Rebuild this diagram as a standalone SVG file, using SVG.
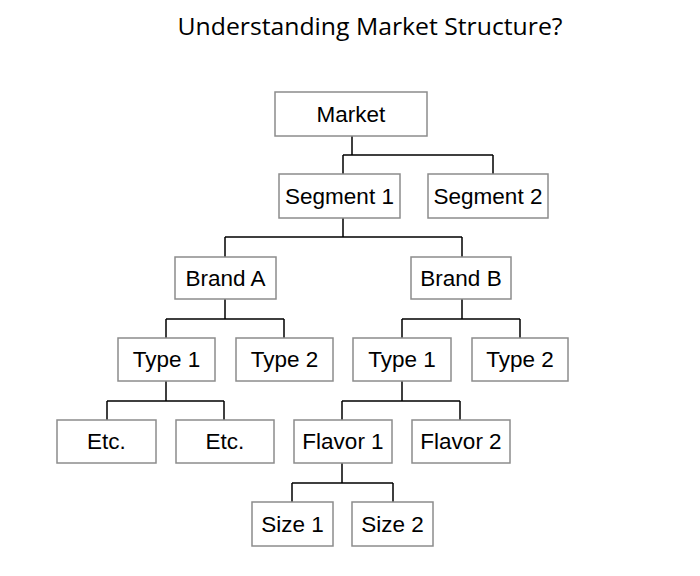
<svg xmlns="http://www.w3.org/2000/svg" width="700" height="576" viewBox="0 0 700 576">
<style>
.box rect{fill:#fff;stroke:#8c8c8c;stroke-width:1.5}
.box text{font-family:"Liberation Sans",Arial,sans-serif;font-size:22.5px;fill:#000;text-anchor:middle}
.title{font-family:"Open Sans","Liberation Sans",sans-serif;font-size:23px;fill:#000;text-anchor:middle}
#connectors path{fill:none;stroke:#000;stroke-width:1.5}
</style>
<rect width="700" height="576" fill="#fff"/>
<text class="title" x="370" y="35" textLength="385" lengthAdjust="spacingAndGlyphs">Understanding Market Structure?</text>
<g id="connectors">
<path d="M352 136V155M343 155H493M343 155V174M493 155V174"/>
<path d="M343 218V237M225 237H462M225 237V257M462 237V257"/>
<path d="M225 299V319M166 319H284M166 319V338M284 319V338"/>
<path d="M462 299V319M402 319H520M402 319V338M520 319V338"/>
<path d="M166 381V401M107 401H224M107 401V420M224 401V420"/>
<path d="M402 381V401M342 401H460M342 401V420M460 401V420"/>
<path d="M342 463V483M292 483H393M292 483V502M393 483V502"/>
</g>
<g id="market" class="box"><rect x="275" y="92" width="152" height="44"/><text x="351" y="122">Market</text></g>
<g id="segment1" class="box"><rect x="279" y="174" width="121" height="44"/><text x="339.5" y="204">Segment 1</text></g>
<g id="segment2" class="box"><rect x="428" y="174" width="120" height="44"/><text x="488" y="204">Segment 2</text></g>
<g id="brandA" class="box"><rect x="175" y="257" width="101" height="42"/><text x="225.5" y="286">Brand A</text></g>
<g id="brandB" class="box"><rect x="411" y="257" width="100" height="42"/><text x="461" y="286">Brand B</text></g>
<g id="typeA1" class="box"><rect x="118" y="338" width="97" height="43"/><text x="166.5" y="367">Type 1</text></g>
<g id="typeA2" class="box"><rect x="236" y="338" width="97" height="43"/><text x="284.5" y="367">Type 2</text></g>
<g id="typeB1" class="box"><rect x="353" y="338" width="98" height="43"/><text x="402" y="367">Type 1</text></g>
<g id="typeB2" class="box"><rect x="472" y="338" width="96" height="43"/><text x="520" y="367">Type 2</text></g>
<g id="etc1" class="box"><rect x="57" y="420" width="99" height="43"/><text x="106.5" y="449">Etc.</text></g>
<g id="etc2" class="box"><rect x="176" y="420" width="98" height="43"/><text x="225" y="449">Etc.</text></g>
<g id="flavor1" class="box"><rect x="294" y="420" width="98" height="43"/><text x="343" y="449">Flavor 1</text></g>
<g id="flavor2" class="box"><rect x="412" y="420" width="98" height="43"/><text x="461" y="449">Flavor 2</text></g>
<g id="size1" class="box"><rect x="252" y="502" width="81" height="44"/><text x="292.5" y="532">Size 1</text></g>
<g id="size2" class="box"><rect x="352" y="502" width="81" height="44"/><text x="392.5" y="532">Size 2</text></g>
</svg>
